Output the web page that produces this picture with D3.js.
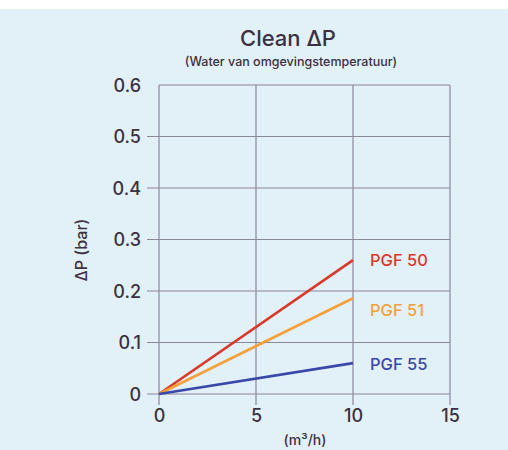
<!DOCTYPE html>
<html>
<head>
<meta charset="utf-8">
<script src="https://cdn.jsdelivr.net/npm/d3@7"></script>
<style>
  body { margin: 0; background: #fff; }
  text { font-family: Inter, Roboto, "DejaVu Sans", sans-serif; font-weight: 500; }
</style>
</head>
<body>
<div id="chart"></div>
<script>
// flow (m3/h) and clean pressure drop (bar)
var flow = [0, 10];
var pgf50 = [0, 0.26];
var pgf51 = [0, 0.186];
var pgf55 = [0, 0.06];
var seriesNames = ["PGF 50", "PGF 51", "PGF 55"];
var seriesColors = ["#d9392a", "#f6a03a", "#3a48a8"];
var xTicks = [0, 5, 10, 15];
var yTicks = [0, 0.1, 0.2, 0.3, 0.4, 0.5, 0.6];

var W = 508, H = 450;
var ink = "#3b3140", grid = "#8c8699";
var labelDy = [6, 18, 7]; // label baseline offset from line end

var svg = d3.select("#chart").append("svg").attr("width", W).attr("height", H);
svg.append("rect").attr("x", 0).attr("y", 9).attr("width", W).attr("height", H - 9).attr("fill", "#e2f0f8");

var x = d3.scaleLinear().domain([0, 15]).range([159, 450]);
var y = d3.scaleLinear().domain([0, 0.6]).range([394, 85]);

// horizontal grid (with a stub left of the y axis, except on top)
svg.append("g").selectAll("line").data(yTicks).join("line")
  .attr("x1", function(d) { return d == 0.6 ? x(0) : x(0) - 12; })
  .attr("x2", x(15))
  .attr("y1", function(d) { return y(d); }).attr("y2", function(d) { return y(d); })
  .attr("stroke", grid).attr("stroke-width", 1.2);

// vertical grid, running a bit below zero
svg.append("g").selectAll("line").data(xTicks).join("line")
  .attr("x1", function(d) { return x(d); }).attr("x2", function(d) { return x(d); })
  .attr("y1", y(0.6)).attr("y2", y(0) + 11)
  .attr("stroke", grid).attr("stroke-width", 1.2);

// tick labels through the axes
var yAxis = svg.append("g").attr("transform", "translate(" + (x(0) - 18) + ",0)")
  .call(d3.axisLeft(y).tickValues(yTicks).tickSize(0).tickPadding(0)
    .tickFormat(function(d) { return d == 0 ? "0" : d3.format(".1f")(d); }));
yAxis.select(".domain").remove();
yAxis.selectAll("text").attr("fill", ink).style("font-size", "18px").attr("dy", "0.36em");

var xAxis = svg.append("g").attr("transform", "translate(0," + (y(0) + 14) + ")")
  .call(d3.axisBottom(x).tickValues(xTicks).tickSize(0).tickPadding(0));
xAxis.select(".domain").remove();
xAxis.selectAll("text").attr("fill", ink).style("font-size", "18px").attr("dy", "0.75em");

// series lines
var all = [pgf50, pgf51, pgf55];
var line = d3.line()
  .x(function(d, i) { return x(flow[i]); })
  .y(function(d) { return y(d); });

all.forEach(function(s, i) {
  svg.append("path").datum(s).attr("d", line)
    .attr("fill", "none").attr("stroke", seriesColors[i]).attr("stroke-width", 2.6);
  svg.append("text")
    .attr("x", x(flow[1]) + 17).attr("y", y(s[1]) + labelDy[i])
    .attr("fill", seriesColors[i]).style("font-size", "16.5px")
    .text(seriesNames[i]);
});

// titles
svg.append("text").attr("x", 288).attr("y", 46).attr("text-anchor", "middle")
  .attr("fill", ink).style("font-size", "22px").text("Clean \u0394P");
svg.append("text").attr("x", 291).attr("y", 66).attr("text-anchor", "middle")
  .attr("fill", ink).style("font-size", "12.5px")
  .text("(Water van omgevingstemperatuur)");
svg.append("text").attr("transform", "translate(87,250) rotate(-90)")
  .attr("text-anchor", "middle").attr("fill", ink).style("font-size", "16px")
  .text("\u0394P (bar)");
svg.append("text").attr("x", 305).attr("y", 445).attr("text-anchor", "middle")
  .attr("fill", ink).style("font-size", "14px").text("(m\u00b3/h)");
</script>
</body>
</html>
